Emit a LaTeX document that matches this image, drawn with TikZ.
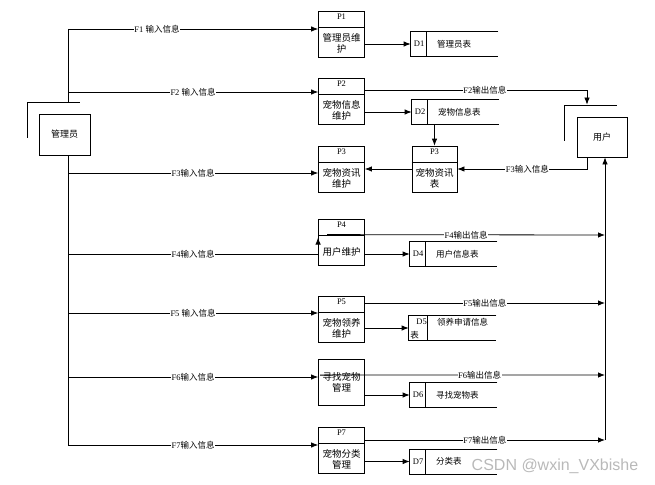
\documentclass[tikz,border=0pt]{standalone}
\usepackage{fontspec}
\setmainfont{Liberation Serif}
\newfontfamily\cjk{Noto Sans CJK SC}
\newfontfamily\wmfont{Liberation Sans}
\usetikzlibrary{arrows.meta,calc}

\tikzset{
  proc/.style={draw,minimum width=46pt,minimum height=46pt,inner sep=0pt},
  ext/.style={draw,minimum width=51pt,minimum height=41pt,inner sep=0pt,font=\cjk\fontsize{9}{9}\selectfont},
  ptitle/.style={font=\fontsize{8.5}{9}\selectfont,inner sep=0pt},
  pbody/.style={font=\cjk\fontsize{9.5}{11.5}\selectfont,align=center,inner sep=0pt},
  store/.style={minimum width=87pt,minimum height=24pt,inner sep=0pt},
  stext/.style={font=\cjk\fontsize{8.5}{9}\selectfont,inner sep=0pt},
  flab/.style={fill=white,inner sep=0.6pt,font=\fontsize{8.5}{9}\selectfont},
}

\begin{document}
\begin{tikzpicture}[x=1pt,y=-1pt,>={Latex[length=7pt,width=5.5pt]},line width=0.8pt]
  \useasboundingbox (0,0) rectangle (655,484);

  \foreach \n/\yc/\txt in {1/34/{管理员维\\护},2/101/{宠物信息\\维护},3/169/{宠物资讯\\维护},4/242/{用户维护},5/319/{宠物领养\\维护},7/450/{宠物分类\\管理}}{
    \node[proc] (p\n) at (341.5,\yc) {};
    \draw ([yshift=-17pt]p\n.north west) -- ([yshift=-17pt]p\n.north east);
    \node[ptitle] (pt\n) at ([yshift=-6pt]p\n.north) {P\n};
    \node[pbody] (pb\n) at ([yshift=-33pt]p\n.north) {\txt};
  }
  \node[proc] (p6) at (341.5,382.5) {};
  \node[pbody] (pb6) at (p6) {寻找宠物\\管理};

  \node[proc,minimum width=45pt] (m3) at (434.5,169) {};
  \draw ([yshift=-17pt]m3.north west) -- ([yshift=-17pt]m3.north east);
  \node[ptitle] (mt3) at ([yshift=-6pt]m3.north) {P3};
  \node[pbody] (mb3) at ([yshift=-33pt]m3.north) {宠物资讯\\表};

  \foreach \n/\xa/\yc/\txt in {1/411/44/管理员表,2/412/112/宠物信息表,4/410/254/用户信息表,6/410/395/寻找宠物表,7/410/461.5/分类表}{
    \node[store] (d\n) at (\xa+43.5,\yc) {};
    \draw (d\n.north east) -- (d\n.north west) -- (d\n.south west) -- (d\n.south east);
    \draw ([xshift=16pt]d\n.north west) -- ([xshift=16pt]d\n.south west);
    \node[ptitle] (dn\n) at ([xshift=8.5pt]d\n.west) {D\n};
    \node[stext,anchor=west] (dt\n) at ([xshift=26pt]d\n.west) {\txt};
  }
  \node[store] (d5) at (452.5,328) {};
  \draw (d5.north east) -- (d5.north west) -- (d5.south west) -- (d5.south east);
  \draw ([xshift=19pt]d5.north west) -- ([xshift=19pt]d5.south west);
  \node[ptitle] (dn5) at ([xshift=13pt,yshift=6pt]d5.west) {D5};
  \node[stext] (dx5) at ([xshift=6pt,yshift=-7pt]d5.west) {表};
  \node[stext,anchor=west] (dt5) at ([xshift=28pt,yshift=6pt]d5.west) {领养申请信息};

  \foreach \n in {1,2,4,5,6,7}
    \draw[->] (p\n.east |- d\n.west) -- (d\n.west);
  \draw[->] (m3.north |- d2.south) -- (m3.north);
  \draw[->] (m3.west) -- (p3.east);

  \node[ext] (admin) at (64.5,134.5) {管理员};
  \draw ([xshift=-11pt,yshift=-24pt]admin.north west) -- ([xshift=-11pt,yshift=11pt]admin.north west) -- ([xshift=-10pt,yshift=11pt]admin.north east);
  \node[ext,minimum width=50pt,minimum height=40pt] (user) at (602,137) {用户};
  \draw ([xshift=-12pt,yshift=-24pt]user.north west) -- ([xshift=-12pt,yshift=11pt]user.north west) -- ([xshift=-10pt,yshift=11pt]user.north east);

  \foreach \k/\yy in {1/29,2/92,3/173,4/254,5/313,6/377,7/445}
    \coordinate (a\k) at (68,\yy);
  \draw (a1) -- ([xshift=3.5pt,yshift=11pt]admin.north);
  \draw ([xshift=3.5pt]admin.south) -- (a7);
  \draw[->] (a1) -- node[flab,pos=0.356] (fi1) {F1 {\cjk 输入信息}} (p1.west |- a1);
  \foreach \k/\lab in {2/{F2 {\cjk 输入信息}},3/{F3{\cjk 输入信息}},5/{F5 {\cjk 输入信息}},6/{F6{\cjk 输入信息}},7/{F7{\cjk 输入信息}}}
    \draw[->] (a\k) -- node[flab] (fi\k) {\lab} (p\k.west |- a\k);
  \draw[->] (a4) -- node[flab] (fi4) {F4{\cjk 输入信息}} (p4.west |- a4) -- ([yshift=-19pt]p4.north west);

  \coordinate (ucor) at (587,90);
  \draw[->] (p2.east |- ucor) -- node[flab,pos=0.54] (fo2) {F2{\cjk 输出信息}} (ucor) -- ([xshift=-15pt,yshift=12pt]user.north);
  \draw[->] ([xshift=-15pt]user.south) |- node[flab,pos=0.73] (fu3) {F3{\cjk 输入信息}} (m3.east);

  \coordinate (col) at (605,440);
  \draw[->] (col) -- (user.south -| col);
  \draw[->] ([xshift=9pt,yshift=-16pt]p4.north west) -- node[flab] (fo4) {F4{\cjk 输出信息}} (col |- 0,235);
  \draw[->] (p5.east |- 0,303) -- node[flab] (fo5) {F5{\cjk 输出信息}} (col |- 0,303);
  \draw[->] ([xshift=2pt,yshift=-16pt]p6.north west) -- node[flab,pos=0.56] (fo6) {F6{\cjk 输出信息}} (col |- 0,375);
  \draw[->] (p7.east |- col) -- node[flab] (fo7) {F7{\cjk 输出信息}} (col);

  \node[text=gray!55,font=\wmfont\fontsize{16}{16}\selectfont,inner sep=0pt] (wm) at (555,466) {CSDN @wxin\_VXbishe};
\end{tikzpicture}
\end{document}
